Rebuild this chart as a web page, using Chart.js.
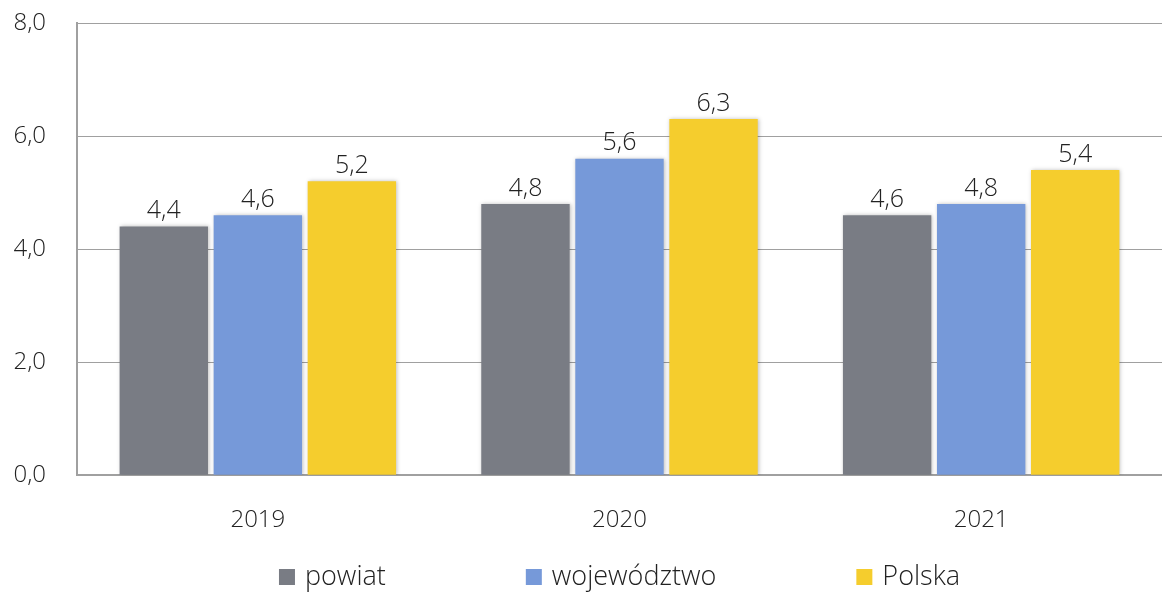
<!DOCTYPE html>
<html lang="pl">
<head>
  <meta charset="UTF-8" />
  <title>Wykres – powiat, województwo, Polska</title>
  <script src="https://cdn.jsdelivr.net/npm/chart.js"></script>
  <style>
    html, body { margin: 0; padding: 0; background: #fff; }
    #wrap { width: 1162px; height: 592px; }
  </style>
</head>
<body>
  <div id="wrap"><canvas id="chart"></canvas></div>

  <script>
    // data
    const years = ["2019", "2020", "2021"];
    const powiat = [4.4, 4.8, 4.6];
    const wojewodztwo = [4.6, 5.6, 4.8];
    const polska = [5.2, 6.3, 5.4];

    const FONT = "'Open Sans', 'Noto Sans', sans-serif";
    const fmt = v => v.toFixed(1).replace(".", ",");

    // value labels above bars
    const valueLabels = {
      id: "valueLabels",
      afterDatasetsDraw(chart) {
        const ctx = chart.ctx;
        ctx.save();
        ctx.font = "300 25px " + FONT;
        ctx.fillStyle = "#222";
        ctx.textAlign = "center";
        ctx.textBaseline = "bottom";
        chart.data.datasets.forEach((ds, i) => {
          chart.getDatasetMeta(i).data.forEach((bar, j) => {
            ctx.fillText(fmt(ds.data[j]), bar.x, bar.y - 3);
          });
        });
        ctx.restore();
      }
    };

    // soft shadow behind the bars
    const barShadow = {
      id: "barShadow",
      beforeDatasetsDraw(chart) {
        const ctx = chart.ctx;
        ctx.save();
        ctx.shadowColor = "rgba(0,0,0,0.25)";
        ctx.shadowBlur = 4;
        ctx.shadowOffsetX = 1;
      },
      afterDatasetsDraw(chart) {
        chart.ctx.restore();
      }
    };

    // legend row under the x axis, items spread out like the original
    const bottomLegend = {
      id: "bottomLegend",
      afterDraw(chart) {
        const ctx = chart.ctx;
        const box = 16, gapText = 10, gapItem = 140;
        ctx.save();
        ctx.font = "300 27px " + FONT;
        ctx.textBaseline = "middle";
        const items = chart.data.datasets.map(ds => ({
          label: ds.label, color: ds.backgroundColor,
          w: box + gapText + ctx.measureText(ds.label).width
        }));
        const total = items.reduce((s, it) => s + it.w, 0) + gapItem * (items.length - 1);
        const mid = (chart.chartArea.left + chart.chartArea.right) / 2;
        let x = mid - total / 2;
        const y = chart.height - 15;
        items.forEach(it => {
          ctx.fillStyle = it.color;
          ctx.fillRect(x, y - box / 2, box, box);
          ctx.fillStyle = "#222";
          ctx.fillText(it.label, x + box + gapText, y);
          x += it.w + gapItem;
        });
        ctx.restore();
      }
    };

    new Chart(document.getElementById("chart"), {
      type: "bar",
      data: {
        labels: years,
        datasets: [
          { label: "powiat", data: powiat, backgroundColor: "#797c84" },
          { label: "województwo", data: wojewodztwo, backgroundColor: "#7699d9" },
          { label: "Polska", data: polska, backgroundColor: "#f5cd2d" }
        ]
      },
      options: {
        responsive: true,
        maintainAspectRatio: false,
        animation: false,
        datasets: {
          bar: { barPercentage: 0.94, categoryPercentage: 0.78 }
        },
        layout: { padding: { top: 23, right: 0, left: 0, bottom: 26 } },
        scales: {
          y: {
            min: 0,
            max: 8,
            afterFit: s => { s.width = 77; s.paddingTop = 0; s.paddingBottom = 0; },
            ticks: {
              stepSize: 2,
              padding: 31,
              color: "#222",
              font: { family: FONT, size: 24, weight: 300 },
              callback: v => fmt(v)
            },
            grid: { color: "#a0a0a0", drawTicks: false },
            border: { color: "#a0a0a0", width: 2 }
          },
          x: {
            ticks: {
              padding: 31,
              color: "#222",
              font: { family: FONT, size: 24, weight: 300 }
            },
            grid: { display: false, drawTicks: false },
            border: { color: "#a0a0a0", width: 2 }
          }
        },
        plugins: {
          legend: { display: false },
          tooltip: { enabled: false }
        }
      },
      plugins: [barShadow, valueLabels, bottomLegend]
    });
  </script>
</body>
</html>
